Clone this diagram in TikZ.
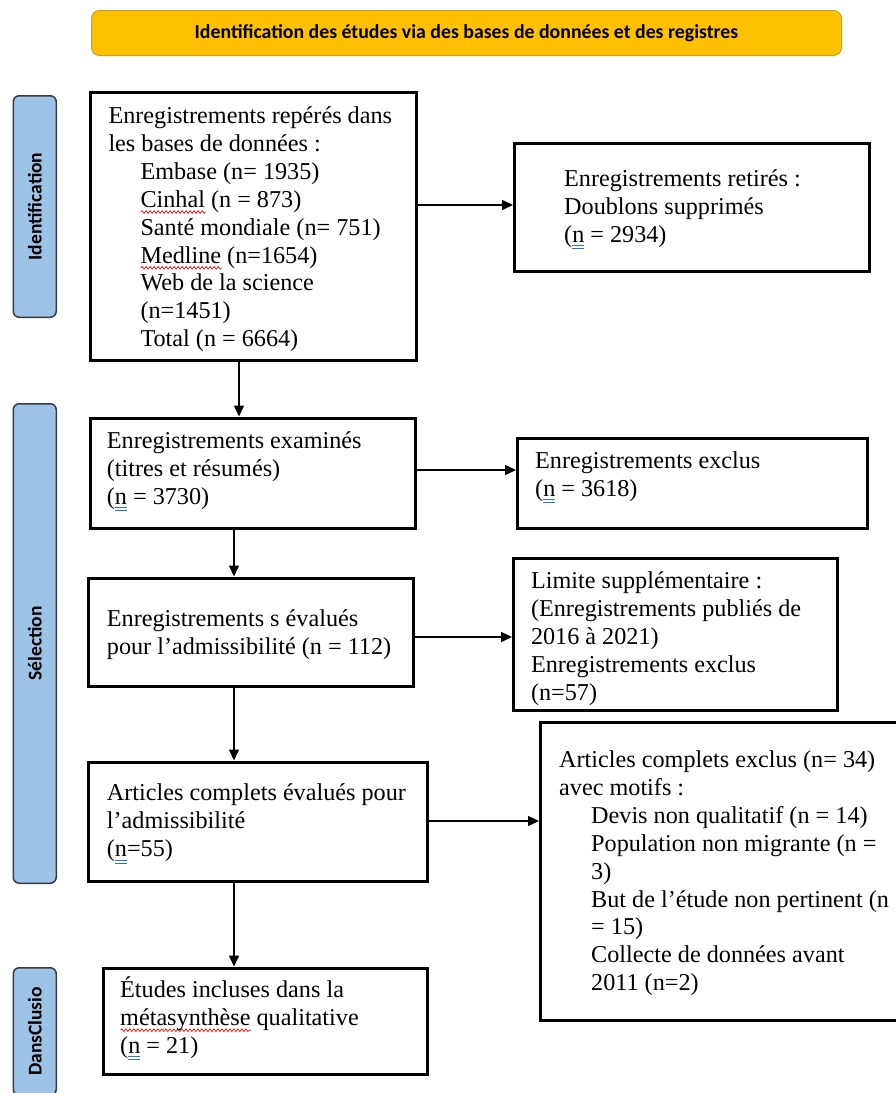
\documentclass[tikz,border=0pt]{standalone}
\usepackage{fontspec}
\setmainfont{Liberation Serif}
\newfontfamily\calfont{Carlito}
\usetikzlibrary{arrows.meta,decorations.pathmorphing}
\definecolor{gold}{HTML}{FFC000}
\definecolor{golddark}{HTML}{C9A227}
\definecolor{barblue}{HTML}{9DC3E6}
\definecolor{bardark}{HTML}{3A3A3A}
\definecolor{uwred}{HTML}{E02020}
\definecolor{ublue}{HTML}{2F6FD8}
\newsavebox\rwbox
\newcommand\rwave[1]{\sbox\rwbox{#1}\rlap{\tikz[baseline=0pt,x=1pt,y=1pt]\draw[uwred,line width=0.8pt,decorate,decoration={snake,amplitude=1.3pt,segment length=4pt}] (0,-4.8) -- (\wd\rwbox,-4.8);}\usebox\rwbox}
\newsavebox\dnbox
\newcommand\dn[1]{\sbox\dnbox{#1}\rlap{\textcolor{ublue}{\rule[-3.8pt]{\wd\dnbox}{1pt}}}\rlap{\textcolor{ublue}{\rule[-6.8pt]{\wd\dnbox}{1pt}}}\usebox\dnbox}
\newcommand\fl{\rule{0pt}{24pt}}
\newcommand\ind{\hspace*{32pt}}
\tikzset{
  box/.style={draw=black, line width=3pt, inner sep=0pt},
  txt/.style={anchor=north west, inner sep=0pt, align=left, font=\fontsize{24.2}{27.9}\selectfont},
  arr/.style={line width=1.5pt, -{Triangle[length=11pt,width=10pt]}},
  sidebar/.style={draw=bardark, fill=barblue, line width=1.5pt, rounded corners=6pt, rotate=90, inner sep=0pt, font=\calfont\bfseries\fontsize{19.5}{22}\selectfont},
}
\begin{document}
\begin{tikzpicture}[x=1pt,y=-1pt]
\useasboundingbox (0,0) rectangle (895,1093);
% banner
\node[draw=golddark, fill=gold, line width=1pt, rounded corners=8pt, minimum width=750pt, minimum height=45pt, inner sep=0pt, font=\calfont\bfseries\fontsize{19.8}{22}\selectfont] (banner) at (466.5,33) {Identification des études via des bases de données et des registres};
% side bars
\node[sidebar, minimum width=221.5pt, minimum height=43pt] (sid) at (34.75,206.5) {Identification};
\node[sidebar, minimum width=479.5pt, minimum height=43pt] (ssel) at (34.75,643.5) {Sélection};
\node[sidebar, minimum width=127.5pt, minimum height=43pt] (sinc) at (34.75,1031.5) {DansClusio};
% boxes
\node[box, minimum width=325.5pt, minimum height=267.5pt] (b1) at (253.25,226.25) {};
\node[box, minimum width=355pt, minimum height=128.5pt] (b2) at (692,207.25) {};
\node[box, minimum width=325pt, minimum height=110.5pt] (b3) at (252.5,473.25) {};
\node[box, minimum width=350pt, minimum height=90.5pt] (b4) at (692.5,483.25) {};
\node[box, minimum width=325pt, minimum height=108pt] (b5) at (251,632) {};
\node[box, minimum width=324pt, minimum height=152.5pt] (b6) at (675.5,634.25) {};
\node[box, minimum width=339pt, minimum height=119pt] (b7) at (258,821.5) {};
\node[box, minimum width=363pt, minimum height=298pt] (b8) at (722,871) {};
\node[box, minimum width=324.5pt, minimum height=106pt] (b9) at (265.25,1021) {};
% texts
\node[txt] (t1) at (108.3,99.3) {\fl Enregistrements repérés dans\\les bases de données :\\\ind Embase (n= 1935)\\\ind \rwave{Cinhal} (n = 873)\\\ind Santé mondiale (n= 751)\\\ind \rwave{Medline} (n=1654)\\\ind Web de la science\\\ind (n=1451)\\\ind Total (n = 6664)};
\node[txt] (t2) at (564,162) {\fl Enregistrements retirés :\\Doublons supprimés\\(\dn{n} = 2934)};
\node[txt] (t3) at (106.7,424.3) {\fl Enregistrements examinés\\(titres et résumés)\\(\dn{n} = 3730)};
\node[txt] (t4) at (535,444.3) {\fl Enregistrements exclus\\(\dn{n} = 3618)};
\node[txt] (t5) at (106.7,602.7) {\fl Enregistrements s évalués\\pour l’admissibilité (n = 112)};
\node[txt] (t6) at (530.8,564.3) {\fl Limite supplémentaire :\\(Enregistrements publiés de\\2016 à 2021)\\Enregistrements exclus\\(n=57)};
\node[txt] (t7) at (106.7,776.7) {\fl Articles complets évalués pour\\l’admissibilité\\(\dn{n}=55)};
\node[txt] (t8) at (559,743.3) {\fl Articles complets exclus (n= 34)\\avec motifs :\\\ind Devis non qualitatif (n = 14)\\\ind Population non migrante (n =\\\ind 3)\\\ind But de l’étude non pertinent (n\\\ind = 15)\\\ind Collecte de données avant\\\ind 2011 (n=2)};
\node[txt] (t9) at (120,973.3) {\fl Études incluses dans la\\\rwave{métasynthèse} qualitative\\(\dn{n} = 21)};
% arrows
\draw[arr] ([yshift=21.25pt]b1.east) -- ([yshift=2.25pt]b2.west);
\draw[arr] ([yshift=3.25pt]b3.east) -- ([yshift=13.25pt]b4.west);
\draw[arr] ([yshift=-5pt]b5.east) -- ([yshift=-2.75pt]b6.west);
\draw[arr] ([yshift=0.5pt]b7.east) -- ([yshift=50pt]b8.west);
\draw[arr] ([xshift=-14.25pt]b1.south) -- ([xshift=-13.5pt]b3.north);
\draw[arr] ([xshift=-18.5pt]b3.south) -- ([xshift=-17pt]b5.north);
\draw[arr] ([xshift=-17pt]b5.south) -- ([xshift=-24pt]b7.north);
\draw[arr] ([xshift=-24pt]b7.south) -- ([xshift=-31.25pt]b9.north);
\end{tikzpicture}
\end{document}
